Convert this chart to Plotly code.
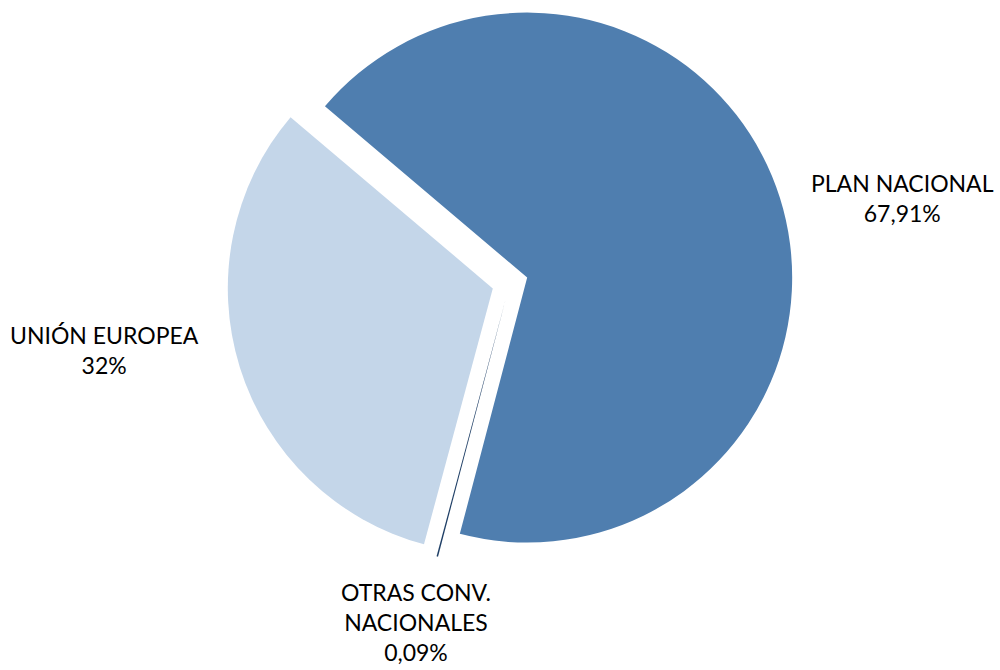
import plotly.graph_objects as go

# data
labels = ['PLAN NACIONAL', 'OTRAS CONV.<br>NACIONALES', 'UNIÓN EUROPEA']
values = [67.91, 0.09, 32.00]
colors = ['#4F7EAF', '#1F3F66', '#C4D6E9']

# label placement (paper coords) for the data labels
label_x = [0.902, 0.416, 0.1045]
label_y = [1 - 198 / 670, 1 - 622 / 670, 1 - 349.5 / 670]


def fmt(v):
    s = f'{v:.2f}'.rstrip('0').rstrip('.')
    return s.replace('.', ',') + '%'


fig = go.Figure(go.Pie(
    labels=labels,
    values=values,
    sort=False,
    direction='clockwise',
    rotation=-49.75,
    pull=[0.068, 0.068, 0.068],
    marker=dict(colors=colors, line=dict(width=0)),
    textinfo='none',
    hoverinfo='label+percent',
    showlegend=False,
    domain=dict(x=[0.16, 0.86], y=[0.1552, 1.0]),
))

for lab, v, x, y in zip(labels, values, label_x, label_y):
    fig.add_annotation(
        text=lab + '<br>' + fmt(v),
        x=x, y=y, xref='paper', yref='paper',
        xanchor='center', yanchor='middle',
        showarrow=False,
        font=dict(family='Lato', size=23, color='#000000'),
    )

fig.update_layout(
    width=1000, height=670,
    margin=dict(l=0, r=0, t=0, b=0),
    paper_bgcolor='white',
    plot_bgcolor='white',
)

# drop the default page margin so the 1000x670 figure fills the window
fig.write_html('out.html', config={'displayModeBar': False},
               post_script="document.body.style.margin='0';")
